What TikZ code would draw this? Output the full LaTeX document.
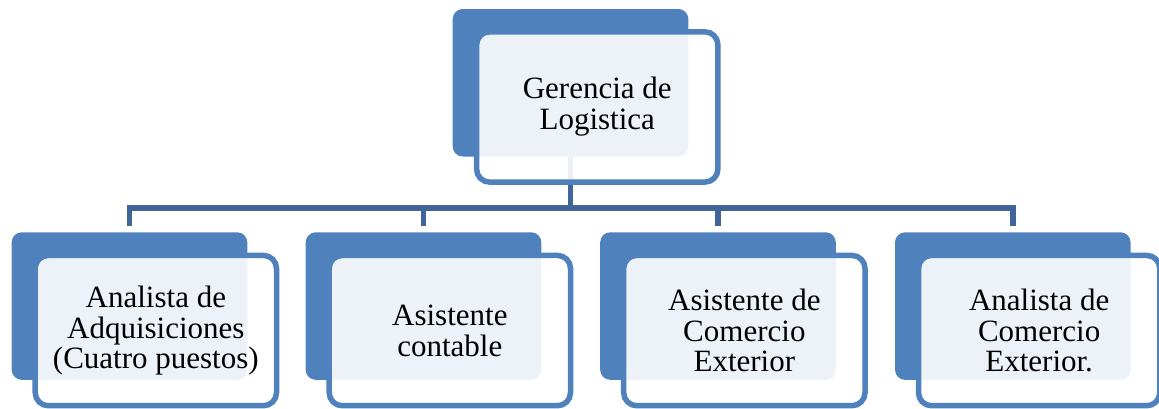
\documentclass[tikz,border=0pt]{standalone}
\usepackage{fontspec}
\setmainfont{Liberation Serif}
\usetikzlibrary{backgrounds,calc}
\definecolor{boxblue}{RGB}{79,129,189}
\definecolor{connblue}{RGB}{65,101,152}
\tikzset{
  backbox/.style={rectangle, rounded corners=10pt, fill=boxblue, draw=none,
    minimum width=235.6pt, minimum height=147.5pt, anchor=north west, outer sep=0pt, inner sep=0pt},
  frontbox/.style={rectangle, rounded corners=13pt, fill=white, fill opacity=0.9, text opacity=1,
    draw=boxblue, line width=5.5pt, minimum width=241.3pt, minimum height=150.3pt,
    anchor=north west, outer sep=0pt, inner sep=2pt, align=center, text=black,
    font=\fontsize{31}{30.8}\selectfont},
  conn/.style={draw=connblue, line width=5.5pt, line join=miter, line cap=butt}
}
\begin{document}
\begin{tikzpicture}[x=1pt,y=-1pt]
\useasboundingbox (0,0) rectangle (1159,408);
% top
\node[backbox] (tb) at (452.7,9) {};
\node[frontbox] (tf) at (476.6,31.8) {Gerencia de\\Logistica};
% bottom
\node[backbox] (b1) at (11.7,232.3) {};
\node[frontbox] (f1) at (35.2,255.4) {Analista de\\Adquisiciones\\(Cuatro puestos)};
\node[backbox] (b2) at (305.7,232.3) {};
\node[frontbox] (f2) at (329.2,255.4) {Asistente\\contable};
\node[backbox] (b3) at (600.2,232.3) {};
\node[frontbox] (f3) at (623.7,255.4) {Asistente de\\Comercio\\Exterior};
\node[backbox] (b4) at (895,232.3) {};
\node[frontbox] (f4) at (918.5,255.4) {Analista de\\Comercio\\Exterior.};
\coordinate (bus) at (0,208);
\begin{scope}[on background layer]
\draw[conn] (tb.south) -- (tb.south |- bus);
\draw[conn] (b1.north -| b1.north) ++(0,-6) |- (bus -| b4.north) -- ([yshift=6pt]b4.north);
\draw[conn] ([yshift=6pt]b2.north) -- (bus -| b2.north);
\draw[conn] ([yshift=6pt]b3.north) -- (bus -| b3.north);
\end{scope}
\end{tikzpicture}
\end{document}
